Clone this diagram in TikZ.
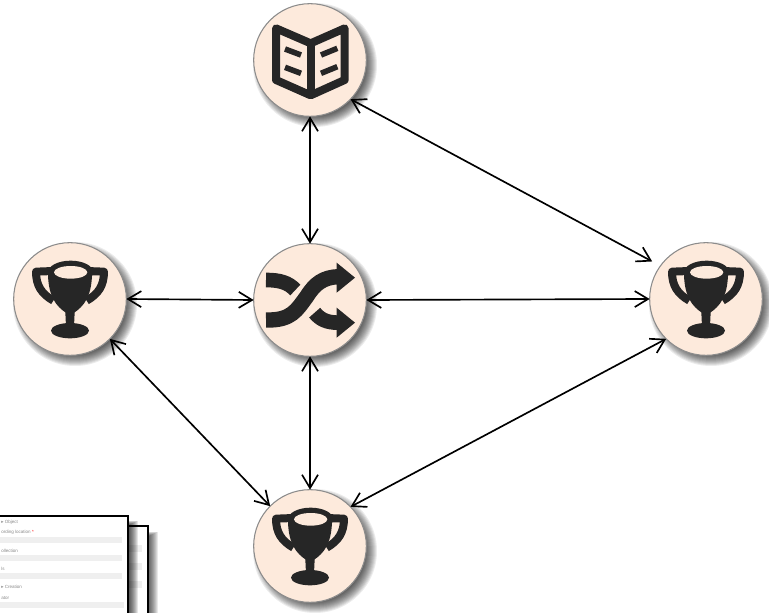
\documentclass[tikz,border=0pt]{standalone}
\usepackage{fontspec}
\setmainfont{Liberation Sans}
\newfontfamily\symfont{DejaVu Sans}
\usetikzlibrary{arrows.meta}
\definecolor{peach}{HTML}{FDEADC}
\definecolor{rimgray}{HTML}{8C8C8C}
\definecolor{icon}{HTML}{262626}
\definecolor{barfill}{HTML}{EFEFEF}
\definecolor{formtext}{HTML}{8A8A8A}
\tikzset{
  roundel/.style={circle,draw=rimgray,line width=0.8pt,fill=peach,minimum size=84.5pt,inner sep=0pt,outer sep=0pt},
  link/.style={line width=1.25pt,black,{Straight Barb[length=10pt,width=12pt]}-{Straight Barb[length=10pt,width=12pt]}},
  formlabel/.style={anchor=west,inner sep=0pt,text=formtext,font=\fontsize{3.4}{4}\selectfont},
  formbar/.style={fill=barfill,draw=none},
  sheet/.style={fill=white,draw=black,line width=1pt},
  pics/bookicon/.style={code={
    \begin{scope}[scale=1/3]
      \draw[icon,line width=6pt,line join=round] (-102,-95) -- (2,-50) -- (104,-95) -- (104,60) -- (2,106) -- (-102,60) -- cycle;
      \draw[icon,line width=6pt] (2,-50) -- (2,106);
      \draw[icon,line width=4.2pt] (-75,-33) -- (-27,-15) (-75,22) -- (-27,40) (33,-15) -- (82,-35) (33,40) -- (82,20);
    \end{scope}}},
  pics/shuffleicon/.style={code={
    \begin{scope}[scale=1/3]
      \draw[icon,line width=11pt] (-132,-60) .. controls (-90,-60) and (-65,-52) .. (-44,-30);
      \draw[icon,line width=11.5pt] (-132,60) .. controls (-55,62) and (-40,30) .. (-10,-10) .. controls (15,-50) and (40,-68) .. (85,-70);
      \fill[icon] (80,-112) -- (135,-67) -- (80,-22) -- cycle;
      \draw[icon,line width=11pt] (14,38) .. controls (30,58) and (50,68) .. (85,68);
      \fill[icon] (80,23) -- (135,68) -- (80,113) -- cycle;
    \end{scope}}},
  pics/cupicon/.style={code={
    \begin{scope}[scale=1/3]
      \draw[icon,line width=6pt,line join=round] (-50,-84) -- (-102,-82) .. controls (-102,-40) and (-85,-15) .. (-50,5);
      \draw[icon,line width=6pt,line join=round] (50,-84) -- (102,-82) .. controls (102,-40) and (85,-15) .. (50,5);
      \fill[icon] (-66,-72) .. controls (-64,-5) and (-40,22) .. (-14,40) -- (-12,82) -- (12,82) -- (14,40) .. controls (40,22) and (64,-5) .. (66,-72) -- cycle;
      \fill[icon] (0,95) ellipse [x radius=57,y radius=23];
      \fill[icon] (2,-80) ellipse [x radius=68,y radius=35];
      \fill[peach] (2,-80) ellipse [x radius=50,y radius=19];
    \end{scope}}}
}
\begin{document}
\begin{tikzpicture}[x=0.75pt,y=-0.75pt]
\useasboundingbox (0,0) rectangle (769,613);
\begin{scope}
\clip (0,0) rectangle (769,613);
% form sheets
\foreach \g in {0,...,8}{
  \fill[black,opacity=.09] (40,{532+\g*0.5}) rectangle ({158-\g},640);
}
\fill[sheet] (40,526) rectangle (148,640);
\foreach \y in {545,563,581}{\fill[formbar] (128,\y) rectangle (142,\y+7);}
\foreach \g in {0,...,8}{
  \fill[black,opacity=.10] (-10,{521+\g*0.5}) rectangle ({138-\g},640);
}
\fill[sheet] (-10,516) rectangle (128,640);
\foreach \y in {537,555,573}{\fill[formbar] (-5,\y) rectangle (122,\y+6);}
\fill[formbar] (-5,602) rectangle (124,608);
\node[formlabel] (fo) at (1,522) {{\symfont ▸} Object};
\node[formlabel] (fa) at (1,532.5) {ording location {\color{red}*}};
\node[formlabel] (fb) at (1,551) {ollection};
\node[formlabel] (fc) at (1,569) {ls};
\node[formlabel] (fd) at (1,587) {{\symfont ▸} Creation};
\node[formlabel] (fe) at (1,598) {ator};
% circle shadows
\foreach \cx/\cy in {310/60,310/300,70/299,706/299,310/546}{
  \foreach \r in {50,51,...,62}{
    \fill[black,opacity=.075] (\cx+5,\cy+5) circle [radius=\r];
  }
}
\end{scope}
\node[roundel] (book) at (310,60) {};
\node[roundel] (mix) at (310,300) {};
\node[roundel] (west) at (70,299) {};
\node[roundel] (east) at (706,299) {};
\node[roundel] (south) at (310,546) {};
\pic at (book) {bookicon};
\pic at (mix) {shuffleicon};
\pic at (west) {cupicon};
\pic at (east) {cupicon};
\pic at (south) {cupicon};
\draw[link] (book.south) -- (mix.north);
\draw[link] (mix.south) -- (south.north);
\draw[link] (west.east) -- (mix.west);
\draw[link] (mix.east) -- (east.west);
\draw[link,shorten >=7pt] (book.-44) -- (east.144);
\draw[link] (west.-45) -- (south.135);
\draw[link] (south.44) -- (east.225);
\end{tikzpicture}
\end{document}
